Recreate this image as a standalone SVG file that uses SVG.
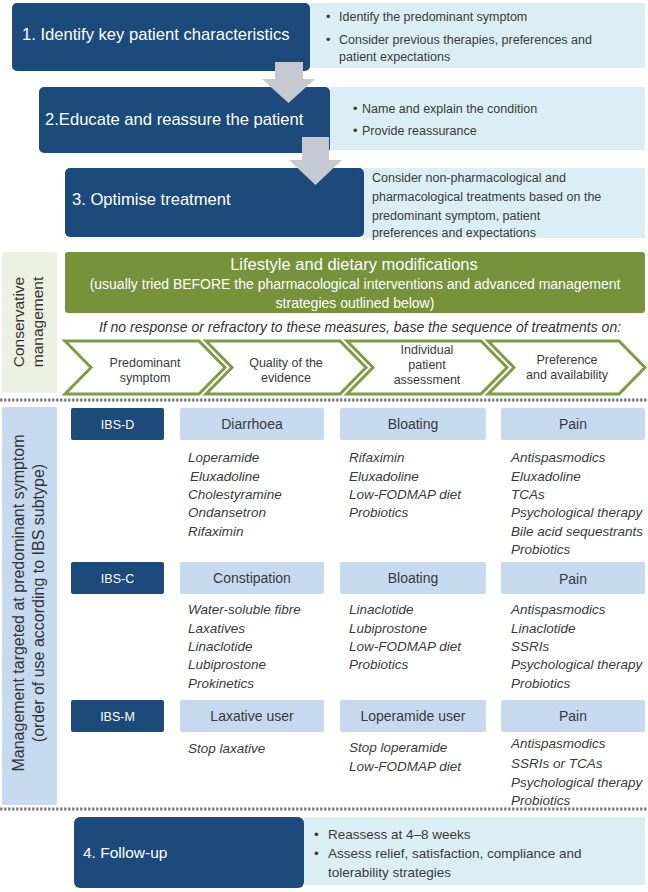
<svg xmlns="http://www.w3.org/2000/svg" width="648" height="892" viewBox="0 0 648 892">
<style>
text{font-family:"Liberation Sans",Arial,Helvetica,sans-serif;fill:#3a3a3a}
.dark{fill:#1c4a7b}
.panel{fill:#dbeef5}
.hdr{fill:#c6d9ef}
.step{font-size:16.6px;fill:#fff}
.pt{font-size:12.5px}
.ft{font-size:13.5px}
.h{font-size:14px;text-anchor:middle}
.ibs{font-size:12.5px;text-anchor:middle;fill:#fff}
.li{font-size:13.5px;font-style:italic}
.chev{fill:#fff;stroke:#7f9c45;stroke-width:3;stroke-linejoin:miter}
.ct{font-size:12.5px;text-anchor:middle}
.arrow{fill:#c6c9d2}
.dots{stroke:#808080;stroke-width:3;stroke-dasharray:2.5 1.5;fill:none}
.side{font-size:16px;text-anchor:middle;fill:#333}
</style>

<!-- Step 1 -->
<g id="step1">
  <rect class="panel" x="310" y="3" width="335" height="65"/>
  <rect class="dark" x="12" y="3" width="298" height="68" rx="5"/>
  <text class="step" x="22" y="40">1. Identify key patient characteristics</text>
  <text class="pt" x="326" y="21">•</text>
  <text class="pt" x="339" y="21">Identify the predominant symptom</text>
  <text class="pt" x="326" y="44">•</text>
  <text class="pt" x="339" y="44">Consider previous therapies, preferences and</text>
  <text class="pt" x="339" y="61">patient expectations</text>
</g>

<!-- Step 2 -->
<g id="step2">
  <rect class="panel" x="330" y="87" width="315" height="63"/>
  <rect class="dark" x="39" y="87" width="291" height="66" rx="5"/>
  <text class="step" x="45" y="125">2.Educate and reassure the patient</text>
  <text class="pt" x="353" y="113">•</text>
  <text class="pt" x="362" y="113">Name and explain the condition</text>
  <text class="pt" x="353" y="135">•</text>
  <text class="pt" x="362" y="135">Provide reassurance</text>
</g>

<!-- Step 3 -->
<g id="step3">
  <rect class="panel" x="364" y="168" width="281" height="70"/>
  <rect class="dark" x="65" y="168" width="299" height="69" rx="5"/>
  <text class="step" x="72" y="205">3. Optimise treatment</text>
  <text class="pt" x="372" y="182">Consider non-pharmacological and</text>
  <text class="pt" x="372" y="201">pharmacological treatments based on the</text>
  <text class="pt" x="372" y="220">predominant symptom, patient</text>
  <text class="pt" x="372" y="238" dy="-1">preferences and expectations</text>
</g>

<!-- Connectors (block arrows) -->
<g id="connectors">
  <rect class="arrow" x="275" y="62" width="28" height="18"/>
  <polygon class="arrow" points="262,79 315,79 288.5,103"/>
  <rect class="arrow" x="302" y="137" width="27" height="24"/>
  <polygon class="arrow" points="289,160 342,160 315.5,185"/>
</g>

<!-- Conservative management -->
<g id="conservative">
  <rect x="2" y="252" width="55" height="141" fill="#ecf1e2" rx="2"/>
  <text class="side" style="font-size:15.5px" transform="translate(24,322) rotate(-90)"><tspan x="0" y="0">Conservative</tspan><tspan x="0" y="19">management</tspan></text>
</g>

<g id="lifestyle">
  <rect x="65" y="252" width="580" height="61" rx="3" fill="#76933c"/>
  <text x="354" y="270" style="font-size:16.5px;text-anchor:middle;fill:#fff">Lifestyle and dietary modifications</text>
  <text x="355" y="288.5" style="font-size:14px;text-anchor:middle;fill:#fff">(usually tried BEFORE the pharmacological interventions and advanced management</text>
  <text x="355" y="307.5" style="font-size:14px;text-anchor:middle;fill:#fff">strategies outlined below)</text>
</g>

<text id="refractory" x="360" y="332" style="font-size:14px;font-style:italic;text-anchor:middle;fill:#333">If no response or refractory to these measures, base the sequence of treatments on:</text>

<g id="chev1">
  <polygon class="chev" points="65,341 199,341 225,367.5 199,394 65,394 91,367.5"/>
  <text class="ct" x="145" y="367">Predominant</text>
  <text class="ct" x="145" y="382">symptom</text>
</g>
<g id="chev2">
  <polygon class="chev" points="206,341 340,341 366,367.5 340,394 206,394 232,367.5"/>
  <text class="ct" x="286" y="367">Quality of the</text>
  <text class="ct" x="286" y="382">evidence</text>
</g>
<g id="chev3">
  <polygon class="chev" points="347,341 481,341 507,367.5 481,394 347,394 373,367.5"/>
  <text class="ct" x="427" y="354">Individual</text>
  <text class="ct" x="427" y="369">patient</text>
  <text class="ct" x="427" y="384">assessment</text>
</g>
<g id="chev4">
  <polygon class="chev" points="488,341 619,341 645,367.5 619,394 488,394 514,367.5"/>
  <text class="ct" x="567" y="364">Preference</text>
  <text class="ct" x="567" y="379">and availability</text>
</g>

<line class="dots" x1="0" y1="400" x2="648" y2="400"/>

<!-- Management side panel -->
<g id="management">
  <rect x="2" y="407" width="55" height="398" fill="#c6d9ee" rx="2"/>
  <text class="side" transform="translate(24,603) rotate(-90)"><tspan x="0" y="0">Management targeted at predominant symptom</tspan><tspan x="0" y="20">(order of use according to IBS subtype)</tspan></text>
</g>

<!-- IBS-D row -->
<g id="ibs-d">
  <rect class="dark" x="71" y="408" width="93" height="32" rx="2"/>
  <text class="ibs" x="117.5" y="429">IBS-D</text>
</g>
<g id="diarrhoea">
  <rect class="hdr" x="180" y="408" width="144" height="32" rx="2"/>
  <text class="h" x="252" y="429">Diarrhoea</text>
  <text class="li" x="188" y="462">Loperamide</text>
  <text class="li" x="190" y="480.5">Eluxadoline</text>
  <text class="li" x="188" y="499">Cholestyramine</text>
  <text class="li" x="188" y="517">Ondansetron</text>
  <text class="li" x="188" y="535.5">Rifaximin</text>
</g>
<g id="bloating-d">
  <rect class="hdr" x="340" y="408" width="146" height="32" rx="2"/>
  <text class="h" x="413" y="429">Bloating</text>
  <text class="li" x="349" y="462">Rifaximin</text>
  <text class="li" x="349" y="480.5">Eluxadoline</text>
  <text class="li" x="349" y="499">Low-FODMAP diet</text>
  <text class="li" x="349" y="517">Probiotics</text>
</g>
<g id="pain-d">
  <rect class="hdr" x="501" y="408" width="144" height="32" rx="2"/>
  <text class="h" x="573" y="429">Pain</text>
  <text class="li" x="511" y="462">Antispasmodics</text>
  <text class="li" x="511" y="480.5">Eluxadoline</text>
  <text class="li" x="511" y="499">TCAs</text>
  <text class="li" x="511" y="517">Psychological therapy</text>
  <text class="li" x="511" y="535.5">Bile acid sequestrants</text>
  <text class="li" x="511" y="553.5">Probiotics</text>
</g>

<!-- IBS-C row -->
<g id="ibs-c">
  <rect class="dark" x="71" y="562" width="93" height="32" rx="2"/>
  <text class="ibs" x="117.5" y="583">IBS-C</text>
</g>
<g id="constipation">
  <rect class="hdr" x="180" y="562" width="144" height="32" rx="2"/>
  <text class="h" x="252" y="583">Constipation</text>
  <text class="li" x="188" y="614">Water-soluble fibre</text>
  <text class="li" x="188" y="632.5">Laxatives</text>
  <text class="li" x="188" y="651">Linaclotide</text>
  <text class="li" x="188" y="669">Lubiprostone</text>
  <text class="li" x="188" y="687.5">Prokinetics</text>
</g>
<g id="bloating-c">
  <rect class="hdr" x="340" y="562" width="146" height="32" rx="2"/>
  <text class="h" x="413" y="583">Bloating</text>
  <text class="li" x="349" y="614">Linaclotide</text>
  <text class="li" x="349" y="632.5">Lubiprostone</text>
  <text class="li" x="349" y="651">Low-FODMAP diet</text>
  <text class="li" x="349" y="669">Probiotics</text>
</g>
<g id="pain-c">
  <rect class="hdr" x="501" y="562" width="144" height="32" rx="2"/>
  <text class="h" x="573" y="584">Pain</text>
  <text class="li" x="511" y="614">Antispasmodics</text>
  <text class="li" x="511" y="632.5">Linaclotide</text>
  <text class="li" x="511" y="651">SSRIs</text>
  <text class="li" x="511" y="669">Psychological therapy</text>
  <text class="li" x="511" y="687.5">Probiotics</text>
</g>

<!-- IBS-M row -->
<g id="ibs-m">
  <rect class="dark" x="71" y="700" width="93" height="32" rx="2"/>
  <text class="ibs" x="117.5" y="721">IBS-M</text>
</g>
<g id="laxative-user">
  <rect class="hdr" x="180" y="700" width="144" height="32" rx="2"/>
  <text class="h" x="252" y="721">Laxative user</text>
  <text class="li" x="188" y="753">Stop laxative</text>
</g>
<g id="loperamide-user">
  <rect class="hdr" x="340" y="700" width="146" height="32" rx="2"/>
  <text class="h" x="413" y="721">Loperamide user</text>
  <text class="li" x="349" y="752">Stop loperamide</text>
  <text class="li" x="349" y="771">Low-FODMAP diet</text>
</g>
<g id="pain-m">
  <rect class="hdr" x="501" y="700" width="144" height="32" rx="2"/>
  <text class="h" x="573" y="721">Pain</text>
  <text class="li" x="511" y="748">Antispasmodics</text>
  <text class="li" x="511" y="767.5">SSRIs or TCAs</text>
  <text class="li" x="511" y="786.5">Psychological therapy</text>
  <text class="li" x="511" y="805">Probiotics</text>
</g>

<line class="dots" x1="0" y1="809" x2="648" y2="809"/>

<!-- Step 4 -->
<g id="step4">
  <rect class="panel" x="304" y="817" width="341" height="68"/>
  <rect class="dark" x="74" y="817" width="230" height="71" rx="6"/>
  <text x="83" y="858" style="font-size:15.5px;fill:#fff">4. Follow-up</text>
  <text class="ft" x="314" y="839">•</text>
  <text class="ft" x="328" y="839">Reassess at 4–8 weeks</text>
  <text class="ft" x="314" y="858">•</text>
  <text class="ft" x="328" y="858">Assess relief, satisfaction, compliance and</text>
  <text class="ft" x="328" y="876.5">tolerability strategies</text>
</g>
</svg>
